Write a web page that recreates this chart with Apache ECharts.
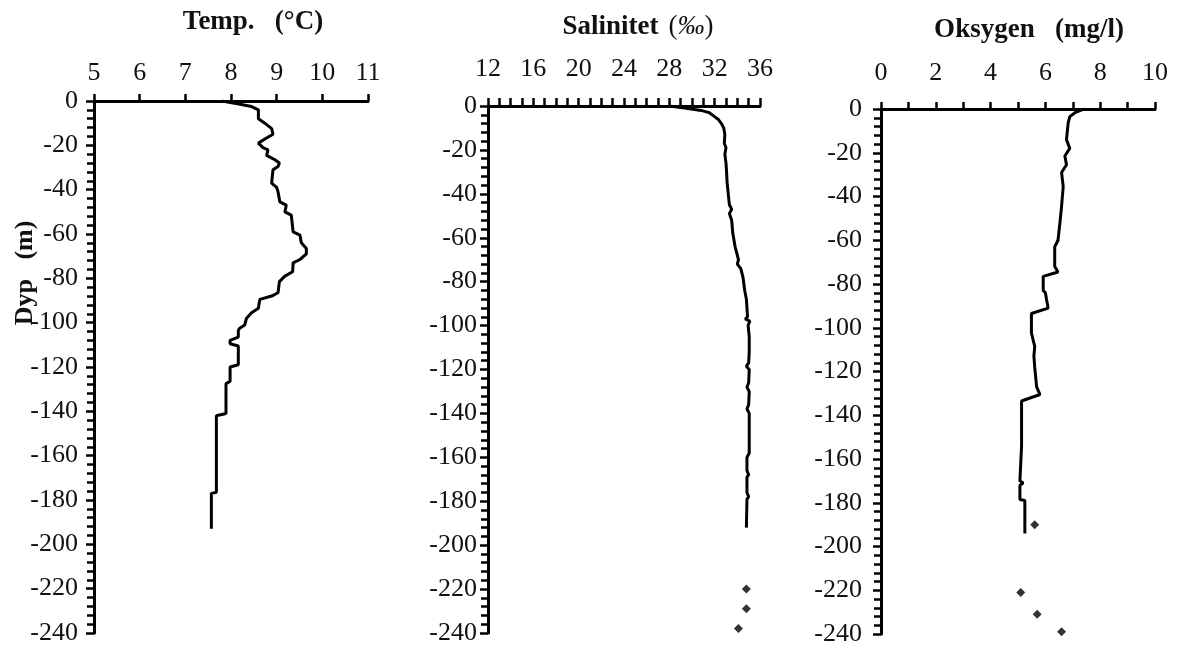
<!DOCTYPE html>
<html><head><meta charset="utf-8">
<script src="https://cdn.jsdelivr.net/npm/echarts@6/dist/echarts.min.js"></script>
<style>html,body{margin:0;padding:0;background:#fff}#c{width:1177px;height:653px}</style>
</head><body><div id="c"></div>
<script>
// ---- Data (depth in metres, positive downward) ----
const tempDepth  = [0,1.5,2.5,4,8,10,12.5,15,17,19,21,22,24.5,26.5,28,29.5,31,37,39,41,45.5,47,50,51.5,59,60.5,64,66.5,69,71.5,73,77,79,81.5,86.5,88,89.5,93.5,95.5,98,101,102.5,103.5,106.5,108,109.5,110.5,119,120,126.5,127.5,141,142,176.5,177,193];
const tempValues = [7.8,8.2,8.45,8.6,8.6,8.74,8.89,8.92,8.75,8.6,8.7,8.81,8.78,8.96,9.06,9.03,8.92,8.89,9.0,9.03,9.07,9.21,9.18,9.32,9.36,9.51,9.54,9.65,9.65,9.51,9.36,9.35,9.18,9.06,9.03,8.89,8.63,8.6,8.45,8.34,8.3,8.19,8.16,8.16,7.98,7.98,8.16,8.16,7.98,7.98,7.89,7.89,7.68,7.68,7.57,7.57];

const salDepth  = [0,1,2,3,4.5,6,8,10,13,17,19,22,26,30,35,40,45,47,49,52,58,64,70,72,74,78,84,88,92,96,97,98,100,105,112,117,118.5,120,126,128,130,136,138,140,150,158,160,166,168,169,176,178,179,192];
const salValues = [28.0,29.5,30.8,31.5,31.9,32.3,32.6,32.8,32.9,32.85,33.0,32.9,33.0,33.05,33.1,33.2,33.3,33.5,33.3,33.5,33.6,33.8,34.1,34.0,34.3,34.5,34.65,34.8,34.85,34.9,34.7,35.1,34.95,35.05,35.05,35.0,34.8,35.05,35.0,34.85,35.05,35.0,34.85,35.05,35.05,35.05,34.85,34.85,35.0,34.85,34.85,35.0,34.85,34.8];
const salPointDepth  = [220,229,238];
const salPointValues = [34.8,34.8,34.1];

const oxyDepth  = [0,1.5,3.5,6.5,14,18,21.5,25.5,29,35.5,44.5,52,60,63,72,74.5,76.5,83,84,87,91,93.5,102.5,108.5,113,118,127,130.5,133.5,154,170,171,172,178.5,179,194];
const oxyValues = [7.4,7.1,6.89,6.83,6.77,6.89,6.71,6.77,6.59,6.65,6.59,6.53,6.46,6.34,6.34,6.46,5.92,5.92,6.0,6.04,6.10,5.49,5.49,5.61,5.58,5.61,5.68,5.80,5.13,5.13,5.07,5.19,5.07,5.07,5.25,5.25];
const oxyPointDepth  = [190,221,231,239];
const oxyPointValues = [5.61,5.10,5.70,6.59];

const titles = ['Temp.   (°C)', 'Salinitet   (‰)', 'Oksygen   (mg/l)'];
const depthLabel = 'Dyp   (m)';

// ---- Chart ----
const FONT = "'Liberation Serif','Times New Roman',serif";
const pairs = (xs, ds) => xs.map((v, i) => [v, -ds[i]]);

const grids = [
  {left: 94,  top: 101, width: 274, height: 532},
  {left: 488, top: 106, width: 272, height: 527},
  {left: 881, top: 109, width: 274, height: 525}
];

const xSpecs = [
  {min: 5,  max: 11, interval: 1, minor: 0, margin: 15, tick: 7},
  {min: 12, max: 36, interval: 4, minor: 4, margin: 24, tick: 8},
  {min: 0,  max: 10, interval: 2, minor: 2, margin: 23, tick: 7}
];
const yMargins = [16, 11, 19];

const xAxis = xSpecs.map((s, i) => ({
  type: 'value', gridIndex: i, position: 'top',
  min: s.min, max: s.max, interval: s.interval,
  axisLine: {show: true, onZero: false, lineStyle: {color: '#000', width: 3}},
  axisTick: {show: true, inside: false, length: s.tick, lineStyle: {color: '#000', width: 2.5}},
  minorTick: {show: s.minor > 0, splitNumber: s.minor || 5, length: s.tick, lineStyle: {color: '#000', width: 2.5}},
  axisLabel: {margin: s.margin, color: '#111', fontFamily: FONT, fontSize: 26},
  splitLine: {show: false}, minorSplitLine: {show: false}
}));

const yAxis = grids.map((g, i) => ({
  type: 'value', gridIndex: i,
  min: -240, max: 0, interval: 20,
  axisLine: {show: true, onZero: false, lineStyle: {color: '#000', width: 3}},
  axisTick: {show: true, inside: false, length: 8, lineStyle: {color: '#000', width: 2.5}},
  minorTick: {show: true, splitNumber: 5, length: 7, lineStyle: {color: '#000', width: 2.5}},
  axisLabel: {margin: yMargins[i], color: '#111', fontFamily: FONT, fontSize: 26},
  splitLine: {show: false}, minorSplitLine: {show: false}
}));

const lineStyle = {color: '#000', width: 3};
const series = [
  {type: 'line', xAxisIndex: 0, yAxisIndex: 0, data: pairs(tempValues, tempDepth), showSymbol: false, lineStyle, animation: false},
  {type: 'line', xAxisIndex: 1, yAxisIndex: 1, data: pairs(salValues, salDepth), showSymbol: false, lineStyle, animation: false},
  {type: 'scatter', xAxisIndex: 1, yAxisIndex: 1, data: pairs(salPointValues, salPointDepth), symbol: 'diamond', symbolSize: 9, itemStyle: {color: '#000'}, animation: false},
  {type: 'line', xAxisIndex: 2, yAxisIndex: 2, data: pairs(oxyValues, oxyDepth), showSymbol: false, lineStyle, animation: false},
  {type: 'scatter', xAxisIndex: 2, yAxisIndex: 2, data: pairs(oxyPointValues, oxyPointDepth), symbol: 'diamond', symbolSize: 9, itemStyle: {color: '#000'}, animation: false}
];

const titlePos = [[253, 22], [638, 27], [1029, 30]];
const graphic = [
  {type: 'text', x: titlePos[0][0], y: titlePos[0][1], style: {text: titles[0], font: 'bold 27px ' + FONT, fill: '#111', textAlign: 'center', textVerticalAlign: 'middle'}},
  {type: 'text', x: titlePos[1][0], y: titlePos[1][1], style: {
    text: '{b|Salinitet}   {r|(}{i|‰}{r|)}',
    rich: {
      b: {font: 'bold 27px ' + FONT, fill: '#111'},
      r: {font: '27px ' + FONT, fill: '#111'},
      i: {font: 'italic 27px ' + FONT, fill: '#111'}
    },
    textAlign: 'center', textVerticalAlign: 'middle'}},
  {type: 'text', x: titlePos[2][0], y: titlePos[2][1], style: {text: titles[2], font: 'bold 27px ' + FONT, fill: '#111', textAlign: 'center', textVerticalAlign: 'middle'}},
  {type: 'text', x: 25, y: 273, rotation: Math.PI / 2, style: {text: depthLabel, font: 'bold 26px ' + FONT, fill: '#111', textAlign: 'center', textVerticalAlign: 'middle'}}
];

const chart = echarts.init(document.getElementById('c'), null, {renderer: 'canvas'});
chart.setOption({
  backgroundColor: '#fff',
  animation: false,
  grid: grids,
  xAxis, yAxis, series, graphic
});
</script></body></html>
